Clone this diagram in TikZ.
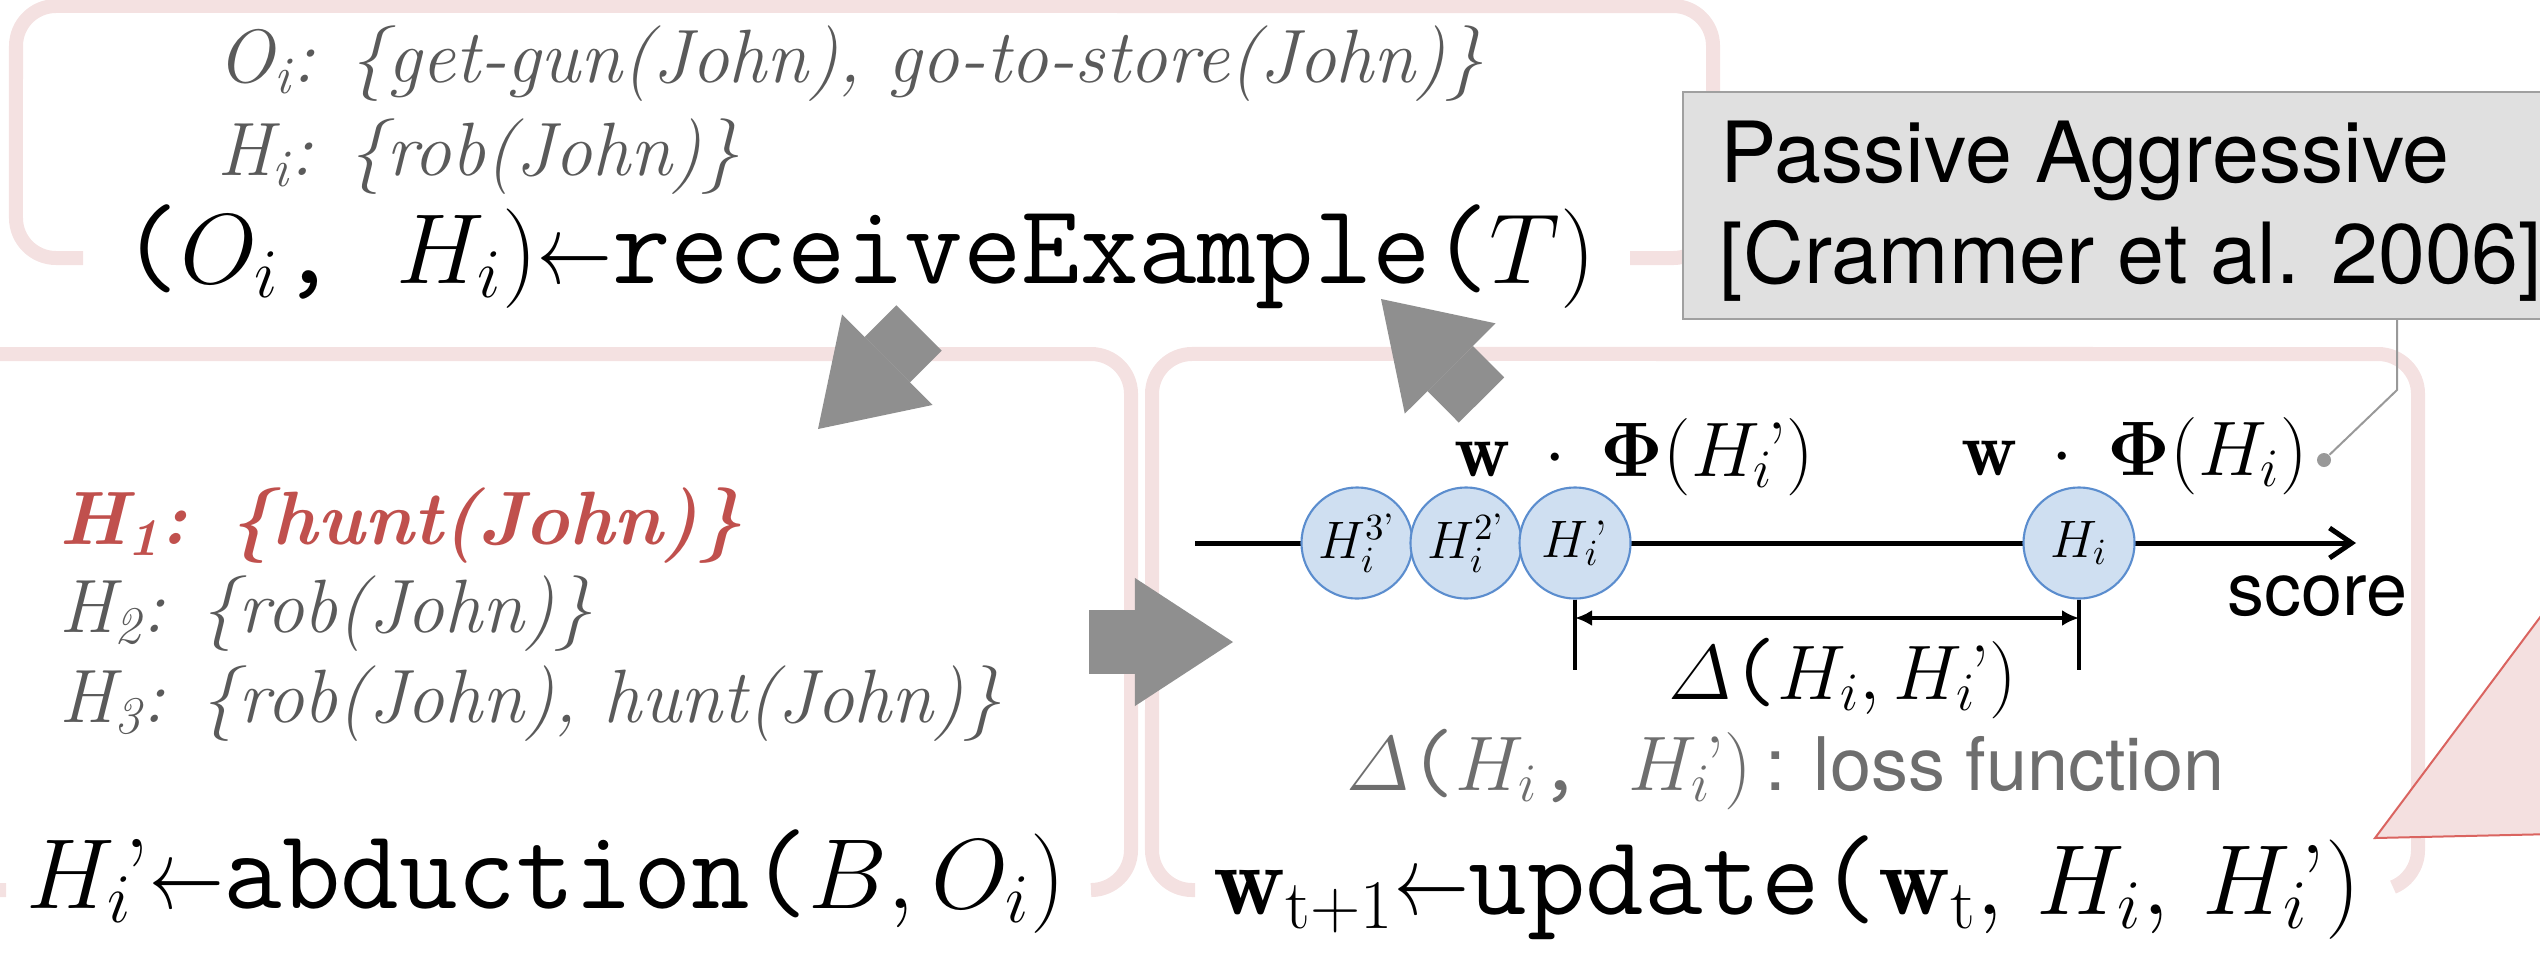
\RequirePackage{fix-cm}
\documentclass[tikz,border=0pt]{standalone}
\usepackage{amsmath}
\usepackage{graphicx}
\usepackage{fontspec}
\setsansfont{TeX Gyre Heros}
\setmonofont{Latin Modern Mono}[Scale=1.1413]
\usetikzlibrary{arrows.meta}
\definecolor{panelpink}{RGB}{244,225,225}
\definecolor{arrowgray}{RGB}{143,143,143}
\definecolor{boxfill}{RGB}{224,224,224}
\definecolor{boxdraw}{RGB}{160,160,160}
\definecolor{callgray}{RGB}{153,153,153}
\definecolor{circfill}{RGB}{207,223,241}
\definecolor{circblue}{RGB}{91,141,206}
\definecolor{redtxt}{RGB}{192,80,77}
\definecolor{graytxt}{RGB}{90,90,90}
\definecolor{lossgray}{RGB}{110,110,110}
\definecolor{tripink}{RGB}{244,224,224}
\definecolor{trired}{RGB}{218,100,96}
\newcommand{\hpr}{\mkern-1.5mu\text{’}}
\newcommand{\larr}{\mathord{\scalebox{0.75}[1]{$\leftarrow$}}}
\begin{document}
\begin{tikzpicture}[x=0.01cm,y=-0.01cm,
  panel/.style={draw=panelpink,line width=0.14cm},
  flowarrow/.style={draw=arrowgray,line width=0.64cm,-{Triangle[length=0.98cm,width=1.28cm,line width=0pt]}},
  txt/.style={inner sep=0pt,anchor=base west},
  serif/.style={txt,text=graytxt,font=\fontsize{21.5}{26}\selectfont\itshape},
  redline/.style={txt,text=redtxt,font=\fontsize{21.5}{26}\selectfont\bfseries\itshape},
  big/.style={txt,font=\fontsize{28.3}{34}\selectfont},
  mid/.style={txt,font=\fontsize{22}{26}\selectfont},
  sans/.style={txt,font=\fontsize{21}{25}\selectfont\sffamily},
  boxtxt/.style={txt,font=\fontsize{24}{29}\selectfont\sffamily},
  pabox/.style={draw=boxdraw,fill=boxfill,line width=0.02cm,inner sep=0pt,anchor=north west,minimum width=8.8cm,minimum height=2.27cm},
  hyp/.style={circle,draw=circblue,fill=circfill,line width=0.6pt,minimum size=1.11cm,inner sep=0pt,font=\fontsize{15}{18}\selectfont},
  axis/.style={line width=0.05cm,-{Straight Barb[length=0.22cm,width=0.3cm]}},
  tickline/.style={line width=0.045cm},
  dim/.style={line width=0.045cm,{Latex[length=0.17cm,width=0.16cm]}-{Latex[length=0.17cm,width=0.16cm]}},
  callout/.style={draw=callgray,line width=0.02cm},
  dot/.style={circle,fill=callgray,minimum size=0.14cm,inner sep=0pt}
]
\useasboundingbox (0,0) rectangle (2540,954);
\clip (0,0) rectangle (2540,954);

% panels
\draw[panel] (83,258) -- (56,258) arc[start angle=-90,end angle=-180,radius=0.4cm]
  -- (16,46) arc[start angle=180,end angle=90,radius=0.4cm]
  -- (1673,6) arc[start angle=90,end angle=0,radius=0.4cm]
  -- (1713,218) arc[start angle=0,end angle=-90,radius=0.4cm] -- (1630,258);
\draw[panel] (6,890) -- (-80,890) -- (-80,354) -- (1091,354)
  arc[start angle=90,end angle=0,radius=0.4cm]
  -- (1131,850) arc[start angle=0,end angle=-90,radius=0.4cm];
\draw[panel] (1195,890) -- (1192,890) arc[start angle=-90,end angle=-180,radius=0.4cm]
  -- (1152,394) arc[start angle=180,end angle=90,radius=0.4cm]
  -- (2378,354) arc[start angle=90,end angle=0,radius=0.4cm]
  -- (2418,850) arc[start angle=0,end angle=-68,radius=0.4cm];

% pink triangle at right edge
\filldraw[fill=tripink,draw=trired,line width=0.02cm] (2375,838) -- (2600,537) -- (2600,833) -- cycle;

% Passive Aggressive box
\node[pabox] (pa) at (1682,91) {};
\node[boxtxt] (pa1) at (1720,182) {Passive Aggressive};
\node[boxtxt] (pa2) at (1719,283) {[Crammer et al. 2006]};

% flow arrows
\coordinate (a1t) at (919,328);  \coordinate (a1h) at (818,429);
\coordinate (a2t) at (1089,642); \coordinate (a2h) at (1233,642);
\coordinate (a3t) at (1481.5,400); \coordinate (a3h) at (1381,299);
\draw[flowarrow] (a1t) -- (a1h);
\draw[flowarrow] (a2t) -- (a2h);
\draw[flowarrow] (a3t) -- (a3h);

% top panel text
\node[serif] (obs) at (217,82) {O\textsubscript{i}: \{get-gun(John), go-to-store(John)\}};
\node[serif] (hyi) at (217,175) {H\textsubscript{i}: \{rob(John)\}};
\node[big] (recv) at (121,283) {\texttt{(}$O_i$\texttt{, }$H_i)\larr$\texttt{receiveExample(}$T)$};

% left panel text
\node[redline] (h1) at (59,544) {H\textsubscript{1}: \{hunt(John)\}};
\node[serif] (h2) at (59,632) {H\textsubscript{2}: \{rob(John)\}};
\node[serif] (h3) at (59,722) {H\textsubscript{3}: \{rob(John), hunt(John)\}};
\node[big] (abd) at (26,908) {$H_i\hpr\larr$\texttt{abduction(}$B, O_i)$};

% right panel: score axis
\coordinate (ax0) at (1195,543); \coordinate (ax1) at (2356,543);
\draw[axis] (ax0) -- (ax1);
\node[hyp] (c3) at (1357,543) {$H_i^{3\text{’}}$};
\node[hyp] (c2) at (1466,543) {$H_i^{2\text{’}}$};
\node[hyp] (c1) at (1575,543) {$H_i\hpr$};
\node[hyp] (ci) at (2079,543) {$H_i$};
\coordinate (t1) at (1575,670); \coordinate (t2) at (2079,670);
\draw[tickline] (c1.south) -- (t1);
\draw[tickline] (ci.south) -- (t2);
\coordinate (d1) at (1575,618); \coordinate (d2) at (2079,618);
\draw[dim] (d1) -- (d2);

\node[mid] (lw1) at (1454,476) {$\mathbf{w}\:\cdot\:\boldsymbol{\Phi}(H_i\hpr)$};
\node[mid] (lw2) at (1961,475) {$\mathbf{w}\:\cdot\:\boldsymbol{\Phi}(H_i)$};
\node[sans] (sc) at (2227,615) {score};
\node[mid] (dl) at (1668,699) {$\varDelta$\texttt{(}$H_i, H_i\hpr)$};
\node[mid,text=lossgray] (loss) at (1346,790) {$\varDelta$\texttt{(}$H_i$\texttt{, }$H_i\hpr)$\hspace{4pt}\sffamily\fontsize{21}{25}\selectfont: loss function};
\node[big] (upd) at (1213,914) {$\mathbf{w}_{\mathrm{t+1}}\larr$\texttt{update(}$\mathbf{w}_{\mathrm{t}},\, H_i,\, H_i\hpr)$};

% callout
\coordinate (cb) at (2397,390);
\node[dot] (cd) at (2324,460) {};
\draw[callout] (pa.south -| cb) -- (cb) -- (cd);
\end{tikzpicture}
\end{document}
